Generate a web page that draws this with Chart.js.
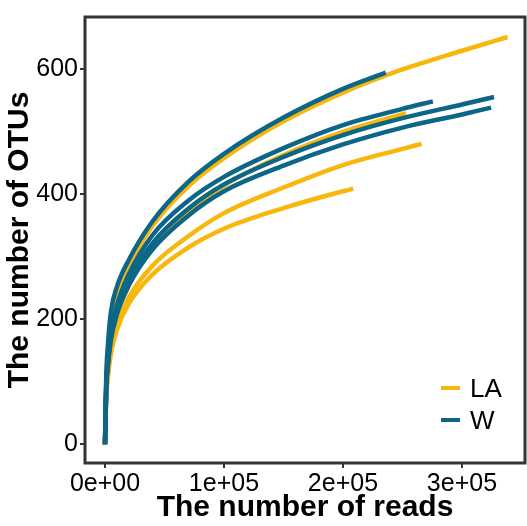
<!DOCTYPE html>
<html>
<head>
<meta charset="utf-8">
<script src="https://cdn.jsdelivr.net/npm/chart.js@4.4.1/dist/chart.umd.min.js"></script>
<style>
  html, body { margin: 0; padding: 0; background: #fff; }
</style>
</head>
<body>
<canvas id="chart" width="527" height="526"></canvas>
<script>
const xTicks = [0, 100000, 200000, 300000];
const yTicks = [0, 200, 400, 600];
const groups = ["LA", "W"];
const groupColors = { LA: "#F8B70D", W: "#0B6687" };

// rarefaction curves (reads, OTUs)
const depthGrid = [0, 1000, 2500, 5000, 10000, 20000, 40000, 70000, 100000, 150000, 200000];

const wTopX = depthGrid.concat([236000]);
const wTopY = [0, 105, 160, 212, 252, 295, 357, 420, 465, 523, 569, 595];

const wMidAX = depthGrid.concat([250000, 275600]);
const wMidAY = [0, 90, 135, 178, 222, 272, 335, 390, 428, 474, 511, 537, 549];

const wMidBX = depthGrid.concat([250000, 300000, 327000]);
const wMidBY = [0, 88, 130, 172, 215, 262, 322, 377, 416, 460, 495, 522, 544, 556];

const wMidCX = depthGrid.concat([250000, 300000, 324500]);
const wMidCY = [0, 86, 126, 167, 208, 254, 312, 366, 405, 446, 480, 507, 528, 539];

const laTopX = depthGrid.concat([250000, 300000, 338400]);
const laTopY = [0, 95, 145, 195, 238, 285, 350, 413, 458, 517, 563, 600, 630, 652];

const laMidX = depthGrid.concat([253000]);
const laMidY = [0, 78, 118, 160, 205, 255, 315, 372, 414, 463, 500, 530];

const laLowAX = depthGrid.concat([250000, 266000]);
const laLowAY = [0, 75, 112, 150, 190, 235, 286, 333, 370, 411, 447, 473, 481];

const laLowBX = depthGrid.concat([208600]);
const laLowBY = [0, 72, 108, 145, 183, 225, 272, 315, 345, 378, 405, 409];

// W listed first so it is painted over LA
const curves = [
  { group: "W", xs: wTopX, ys: wTopY },
  { group: "W", xs: wMidAX, ys: wMidAY },
  { group: "W", xs: wMidBX, ys: wMidBY },
  { group: "W", xs: wMidCX, ys: wMidCY },
  { group: "LA", xs: laTopX, ys: laTopY },
  { group: "LA", xs: laMidX, ys: laMidY },
  { group: "LA", xs: laLowAX, ys: laLowAY },
  { group: "LA", xs: laLowBX, ys: laLowBY },
];

function sci(v) {
  if (v === 0) return "0e+00";
  const exp = Math.floor(Math.log10(Math.abs(v)));
  const mant = Math.round(v / Math.pow(10, exp));
  return mant + "e+" + String(exp).padStart(2, "0");
}

const FONT = "'Liberation Sans', Arial, Helvetica, sans-serif";
const AXIS_COLOR = "#333333";

const frameAndLegend = {
  id: "frameAndLegend",
  afterDatasetsDraw(chart) {
    const { ctx, chartArea } = chart;
    ctx.save();
    ctx.strokeStyle = AXIS_COLOR;
    ctx.lineWidth = 3;
    ctx.strokeRect(chartArea.left, chartArea.top, chartArea.right - chartArea.left, chartArea.bottom - chartArea.top);

    // legend inside the panel, bottom right
    ctx.font = "26px " + FONT;
    ctx.textBaseline = "middle";
    ctx.textAlign = "left";
    groups.forEach((g, i) => {
      const y = chartArea.bottom - 75 + i * 32;
      const x = chartArea.right - 84;
      ctx.strokeStyle = groupColors[g];
      ctx.lineWidth = 4;
      ctx.beginPath();
      ctx.moveTo(x, y);
      ctx.lineTo(x + 19, y);
      ctx.stroke();
      ctx.fillStyle = "#000";
      ctx.fillText(g, x + 29, y + 2);
    });
    ctx.restore();
  }
};

new Chart(document.getElementById("chart").getContext("2d"), {
  type: "line",
  data: {
    datasets: curves.map(c => ({
      label: c.group,
      data: c.xs.map((x, i) => ({ x, y: c.ys[i] })),
      borderColor: groupColors[c.group],
      borderWidth: 4.5,
      pointRadius: 0,
      fill: false,
      cubicInterpolationMode: "monotone",
      borderCapStyle: "butt",
    })),
  },
  options: {
    responsive: false,
    animation: false,
    layout: { padding: { top: 12, right: 2, left: 0, bottom: 0 } },
    plugins: {
      legend: { display: false },
      tooltip: { enabled: false },
    },
    scales: {
      x: {
        type: "linear",
        min: -16800,
        max: 353000,
        afterBuildTicks: s => { s.ticks = xTicks.map(v => ({ value: v })); },
        afterFit: s => { s.height = 63; },
        grid: { drawOnChartArea: false, drawTicks: true, tickLength: 5, color: AXIS_COLOR, lineWidth: 2 },
        border: { display: false },
        ticks: {
          color: "#000",
          font: { family: FONT, size: 25 },
          padding: 1,
          maxRotation: 0,
          callback: v => sci(v),
        },
        title: {
          display: true,
          text: "The number of reads",
          color: "#000",
          font: { family: FONT, size: 30, weight: "bold" },
          padding: { top: 0, bottom: 0 },
        },
      },
      y: {
        type: "linear",
        min: -30,
        max: 684,
        afterBuildTicks: s => { s.ticks = yTicks.map(v => ({ value: v })); },
        afterFit: s => { s.width = 85; },
        grid: { drawOnChartArea: false, drawTicks: true, tickLength: 5, color: AXIS_COLOR, lineWidth: 2 },
        border: { display: false },
        ticks: {
          color: "#000",
          font: { family: FONT, size: 25 },
          padding: 2,
        },
        title: {
          display: true,
          text: "The number of OTUs",
          color: "#000",
          font: { family: FONT, size: 30, weight: "bold" },
          padding: { top: 2, bottom: 0 },
        },
      },
    },
  },
  plugins: [frameAndLegend],
});
</script>
</body>
</html>
